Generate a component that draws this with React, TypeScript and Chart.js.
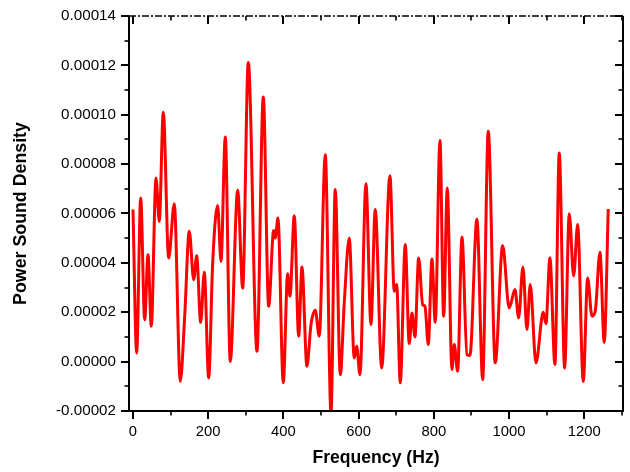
import React, { useEffect, useRef } from 'react';
import { Chart, registerables } from 'chart.js';

Chart.register(...registerables);

const FREQ_HZ = [
  0, 9.8, 20.5, 31.1, 39.9, 48.7, 61.2, 69.9, 80.6, 94.9, 109.8, 125.8, 137.5, 149.7, 161.4, 169.4,
  180.0, 189.6, 201.3, 211.9, 225.2, 234.0, 245.4, 258.7, 278.4, 291.7, 306.6, 329.7, 346.5, 360.8,
  374.1, 378.4, 385.5, 399.6, 411.3, 417.4, 428.9, 440.6, 449.3, 462.6, 473.3, 484.7, 495.3, 511.3,
  526.5, 537.9, 551.2, 561.8, 575.1, 588.4, 594.8, 603.6, 619.5, 632.8, 644.2, 661.3, 683.3, 694.8,
  701.2, 710.7, 724.0, 734.6, 741.8, 749.8, 759.6, 770.3, 776.4, 785.2, 795.0, 803.8, 816.3, 826.1,
  835.7, 848.2, 854.3, 863.3, 874.8, 888.1, 896.0, 914.6, 929.8, 944.7, 963.3, 983.0, 1000.5, 1015.7,
  1025.5, 1036.9, 1047.6, 1056.4, 1071.5, 1090.9, 1098.1, 1108.7, 1122.0, 1133.5, 1147.8, 1160.1,
  1171.8, 1182.4, 1197.3, 1209.0, 1220.4, 1229.2, 1241.7, 1253.1, 1263.8,
];

// power sound density, in units of 1e-5
const PSD_E5 = [
  6.16, 0.35, 6.63, 1.70, 4.33, 1.43, 7.44, 5.68, 10.1, 4.2, 6.39, -0.80, 1.84, 5.28, 3.32, 4.29,
  1.59, 3.62, -0.66, 4.0, 6.32, 4.06, 9.10, 0.01, 6.94, 2.98, 12.12, 0.42, 10.72, 2.24,
  5.31, 5.01, 5.82, -0.86, 3.56, 2.65, 5.91, 1.03, 3.83, -0.19, 1.50, 2.08, 1.03, 8.38,
  -2.05, 6.97, -0.53, 2.38, 5.01, 0.15, 0.62, -0.53, 7.21, 1.50, 6.16, -0.26, 7.53, 2.85,
  3.12, -0.86, 4.74, 0.73, 1.97, 1.00, 4.20, 2.31, 2.24, 0.69, 4.16, 1.59, 8.96, 1.84,
  7.03, -0.32, 0.69, -0.39, 5.05, 0.28, 0.25, 5.78, -0.73, 9.33, -0.05, 4.70, 2.17, 2.92,
  1.77, 3.83, 1.30, 3.12, -0.05, 2.00, 1.54, 4.20, -0.12, 8.45, -0.26, 5.99,
  3.48, 5.55, -0.80, 3.39, 1.84, 2.04, 4.43, 0.78, 6.18,
];

const X_TICKS = [0, 200, 400, 600, 800, 1000, 1200];
const X_MINOR = [100, 300, 500, 700, 900, 1100, 1300];
const Y_TICKS = [-0.00002, 0, 0.00002, 0.00004, 0.00006, 0.00008, 0.0001, 0.00012, 0.00014];
const Y_MINOR = [-0.00001, 0.00001, 0.00003, 0.00005, 0.00007, 0.00009, 0.00011, 0.00013];

const FONT = "'Liberation Sans', Arial, sans-serif";

const framePlugin = {
  id: 'frame',
  afterDraw(chart: any) {
    const { ctx, chartArea, scales } = chart;
    const { left, right, top, bottom } = chartArea;
    const xs = scales.x;
    const ys = scales.y;
    ctx.save();
    ctx.strokeStyle = '#000';
    ctx.lineCap = 'butt';
    const line = (x0: number, y0: number, x1: number, y1: number) => {
      ctx.beginPath();
      ctx.moveTo(x0, y0);
      ctx.lineTo(x1, y1);
      ctx.stroke();
    };
    ctx.lineWidth = 2;
    X_TICKS.forEach((v) => {
      const px = Math.round(xs.getPixelForValue(v));
      line(px, bottom, px, bottom + 8);
      line(px, top, px, top + 8);
    });
    Y_TICKS.forEach((v) => {
      const py = Math.round(ys.getPixelForValue(v));
      line(left - 8, py, left, py);
      line(right - 8, py, right, py);
    });
    ctx.lineWidth = 1.6;
    X_MINOR.forEach((v) => {
      const px = Math.round(xs.getPixelForValue(v));
      line(px, bottom, px, bottom + 4.5);
      line(px, top, px, top + 4.5);
    });
    Y_MINOR.forEach((v) => {
      const py = Math.round(ys.getPixelForValue(v));
      line(left - 4.5, py, left, py);
      line(right - 4.5, py, right, py);
    });
    ctx.lineWidth = 2;
    line(left, top, left, bottom + 1);
    line(left - 1, bottom, right + 1, bottom);
    line(right, top, right, bottom + 1);
    ctx.lineWidth = 1.3;
    ctx.setLineDash([7, 2, 2, 2]);
    line(left, top, right, top);
    ctx.restore();
  },
};

export default function App() {
  const ref = useRef<HTMLCanvasElement | null>(null);

  useEffect(() => {
    if (!ref.current) return;
    const data = FREQ_HZ.map((f, i) => ({ x: f, y: PSD_E5[i] * 1e-5 }));
    const chart = new Chart(ref.current, {
      type: 'line',
      data: {
        datasets: [
          {
            data,
            borderColor: '#ff0000',
            borderWidth: 3,
            pointRadius: 0,
            fill: false,
            cubicInterpolationMode: 'monotone',
          },
        ],
      },
      options: {
        responsive: false,
        animation: false,
        events: [],
        layout: { padding: { left: 0, top: 16, right: 7, bottom: 0 } },
        plugins: { legend: { display: false }, tooltip: { enabled: false } },
        scales: {
          x: {
            type: 'linear',
            min: -10.6,
            max: 1303,
            afterBuildTicks: (s: any) => {
              s.ticks = X_TICKS.map((v) => ({ value: v }));
            },
            afterFit: (s: any) => {
              s.height = 61;
            },
            grid: { display: false, drawTicks: true, tickLength: 8 },
            border: { display: false },
            ticks: {
              color: '#000',
              font: { family: FONT, size: 14.8 },
              padding: 4,
              maxRotation: 0,
              autoSkip: false,
              callback: (v: any) => String(v),
            },
            title: {
              display: true,
              text: 'Frequency (Hz)',
              color: '#000',
              font: { family: FONT, size: 17.6, weight: 'bold' },
              padding: { top: 0, bottom: 3 },
            },
          },
          y: {
            type: 'linear',
            min: -0.00002,
            max: 0.00014,
            afterBuildTicks: (s: any) => {
              s.ticks = Y_TICKS.map((v) => ({ value: v }));
            },
            afterFit: (s: any) => {
              s.width = 129;
            },
            grid: { display: false, drawTicks: true, tickLength: 8 },
            border: { display: false },
            ticks: {
              color: '#000',
              font: { family: FONT, size: 15.2 },
              padding: 5,
              autoSkip: false,
              callback: (v: any) => Number(v).toFixed(5),
            },
            title: {
              display: true,
              text: 'Power Sound Density',
              color: '#000',
              font: { family: FONT, size: 17.8, weight: 'bold' },
              padding: { top: 10.5, bottom: 0 },
            },
          },
        },
      },
      plugins: [framePlugin],
    } as any);
    return () => chart.destroy();
  }, []);

  return (
    <div style={{ position: 'absolute', left: 0, top: 0, width: 630, height: 472, background: '#fff' }}>
      <canvas ref={ref} width={630} height={472} style={{ display: 'block' }} />
    </div>
  );
}
